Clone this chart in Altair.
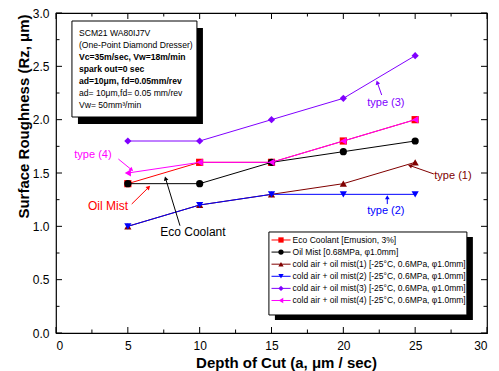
import math
import altair as alt
import pandas as pd

# ---------------- data ----------------
depth = [5, 10, 15, 20, 25]
eco_coolant = [1.4, 1.6, 1.6, 1.8, 2.0]
oil_mist = [1.4, 1.4, 1.6, 1.7, 1.8]
cold_1 = [1.0, 1.2, 1.3, 1.4, 1.6]
cold_2 = [1.0, 1.2, 1.3, 1.3, 1.3]
cold_3 = [1.8, 1.8, 2.0, 2.2, 2.6]
cold_4 = [1.5, 1.6, 1.6, 1.8, 2.0]

series_names = [
    "Eco Coolant [Emusion, 3%]",
    "Oil Mist [0.68MPa, \u03c61.0mm]",
    "cold air + oil mist(1) [-25\u00b0C, 0.6MPa, \u03c61.0mm]",
    "cold air + oil mist(2) [-25\u00b0C, 0.6MPa, \u03c61.0mm]",
    "cold air + oil mist(3) [-25\u00b0C, 0.6MPa, \u03c61.0mm]",
    "cold air + oil mist(4) [-25\u00b0C, 0.6MPa, \u03c61.0mm]",
]
series_values = [eco_coolant, oil_mist, cold_1, cold_2, cold_3, cold_4]
series_colors = ["#ff0000", "#000000", "#800000", "#0000ff", "#8000ff", "#ff00ff"]
series_shapes = ["square", "circle", "triangle-up", "triangle-down", "diamond", "triangle-left"]

info_lines = [
    "SCM21 WA80IJ7V",
    "(One-Point Diamond Dresser)",
    "Vc=35m/sec, Vw=18m/min",
    "spark out=0 sec",
    "ad=10\u03bcm, fd=0.05mm/rev",
    "ad= 10\u03bcm,fd= 0.05 mm/rev",
    "Vw= 50mm\u00b3/min",
]
info_bold = [False, False, True, True, True, False, False]

annot_text = ["type (3)", "type (1)", "type (2)", "type (4)", "Oil Mist", "Eco Coolant"]
annot_color = ["#8000ff", "#800000", "#0000ff", "#ff00ff", "#ff0000", "#000000"]
annot_size = [11, 11, 11, 11, 12, 12]
annot_pos = [(22.96, 2.156), (27.63, 1.472), (22.96, 1.144), (2.57, 1.669), (3.62, 1.191), (9.53, 0.947)]
arrow_tail = [(22.67, 2.231), (26.30, 1.491), (23.06, 1.209), (4.34, 1.631), (5.27, 1.209), (8.63, 1.006)]
arrow_tip = [(22.32, 2.365), (24.52, 1.575), (23.06, 1.290), (5.36, 1.519), (6.54, 1.378), (7.59, 1.465)]

x_major = [0, 5, 10, 15, 20, 25, 30]
y_major = [0.0, 0.5, 1.0, 1.5, 2.0, 2.5, 3.0]

# ---------------- layout ----------------
FONT = "Liberation Sans"
W, H = 431, 320
PX_X = W / 30.0
PX_Y = H / 3.0

xs = alt.Scale(domain=[0, 30], nice=False, zero=False)
ys = alt.Scale(domain=[0, 3], nice=False, zero=False)

x_axis = alt.Axis(
    title="Depth of Cut (a, \u03bcm / sec)", values=x_major, ticks=False, tickSize=0, domain=False,
    grid=False, labelFont=FONT, labelFontSize=12, labelColor="#000000", labelPadding=7,
    titleFont=FONT, titleFontSize=15, titleFontWeight="bold", titleColor="#000000",
    titleX=230, titleY=34, titleAlign="center", titleBaseline="alphabetic",
)
y_axis = alt.Axis(
    title="Surface Roughness (Rz, \u03bcm)", values=y_major, format=".1f", ticks=False, tickSize=0,
    domain=False, grid=False, labelFont=FONT, labelFontSize=12, labelColor="#000000", labelPadding=7,
    titleFont=FONT, titleFontSize=15, titleFontWeight="bold", titleColor="#000000",
    titleX=-28, titleY=103, titleAngle=270, titleAlign="center", titleBaseline="alphabetic",
)


def X(f):
    return alt.X(f, type="quantitative", scale=xs, axis=x_axis)


def Y(f):
    return alt.Y(f, type="quantitative", scale=ys, axis=y_axis)


layers = []

# ---- inward ticks on all four sides ----
tick_rows = []
maj_x, min_x = 6 / PX_X, 3.5 / PX_X
maj_y, min_y = 6 / PX_Y, 3.5 / PX_Y
for v in x_major:
    tick_rows.append(dict(x=v, x2=v, y=0, y2=maj_y))
    tick_rows.append(dict(x=v, x2=v, y=3, y2=3 - maj_y))
for a, b in zip(x_major[:-1], x_major[1:]):
    m = (a + b) / 2
    tick_rows.append(dict(x=m, x2=m, y=0, y2=min_y))
    tick_rows.append(dict(x=m, x2=m, y=3, y2=3 - min_y))
for v in y_major:
    tick_rows.append(dict(x=0, x2=maj_x, y=v, y2=v))
    tick_rows.append(dict(x=30, x2=30 - maj_x, y=v, y2=v))
for a, b in zip(y_major[:-1], y_major[1:]):
    m = (a + b) / 2
    tick_rows.append(dict(x=0, x2=min_x, y=m, y2=m))
    tick_rows.append(dict(x=30, x2=30 - min_x, y=m, y2=m))
layers.append(
    alt.Chart(pd.DataFrame(tick_rows)).mark_rule(color="#000000", strokeWidth=1).encode(
        x=X("x"), x2="x2", y=Y("y"), y2="y2"
    )
)

# ---- series ----
for name, vals, col, shp in zip(series_names, series_values, series_colors, series_shapes):
    df = pd.DataFrame({"depth": depth, "rz": vals})
    layers.append(alt.Chart(df).mark_line(color=col, strokeWidth=1).encode(x=X("depth"), y=Y("rz")))
    layers.append(
        alt.Chart(df).mark_point(shape=shp, filled=True, color=col, size=52, opacity=1).encode(
            x=X("depth"), y=Y("rz")
        )
    )

# ---- annotations with arrows ----
for txt, col, fs, pos, tail, tip in zip(annot_text, annot_color, annot_size, annot_pos, arrow_tail, arrow_tip):
    dxp = (tip[0] - tail[0]) * PX_X
    dyp = -(tip[1] - tail[1]) * PX_Y
    L = math.hypot(dxp, dyp)
    ux, uy = dxp / L, dyp / L
    ang = math.degrees(math.atan2(ux, -uy)) % 360
    back = 2.5
    cx = tip[0] - ux * back / PX_X
    cy = tip[1] + uy * back / PX_Y
    seg = pd.DataFrame([dict(x=tail[0], y=tail[1], x2=cx, y2=cy)])
    layers.append(alt.Chart(seg).mark_rule(color=col, strokeWidth=1).encode(x=X("x"), y=Y("y"), x2="x2", y2="y2"))
    head = pd.DataFrame([dict(x=cx, y=cy)])
    layers.append(
        alt.Chart(head).mark_point(shape="triangle", filled=True, color=col, size=22, angle=ang, opacity=1).encode(
            x=X("x"), y=Y("y")
        )
    )
    tdf = pd.DataFrame([dict(x=pos[0], y=pos[1], t=txt)])
    layers.append(
        alt.Chart(tdf).mark_text(font=FONT, fontSize=fs, color=col, align="center", baseline="middle").encode(
            x=X("x"), y=Y("y"), text="t"
        )
    )

# ---- info box ----
bx0, bx1, by0, by1 = 1.11, 9.81, 2.025, 2.925
sh_dx, sh_dy = 6 / PX_X, 7 / PX_Y
layers.append(
    alt.Chart(pd.DataFrame([dict(x=bx0 + sh_dx, x2=bx1 + sh_dx, y=by0 - sh_dy, y2=by1 - sh_dy)]))
    .mark_rect(color="#000000")
    .encode(x=X("x"), x2="x2", y=Y("y"), y2="y2")
)
layers.append(
    alt.Chart(pd.DataFrame([dict(x=bx0, x2=bx1, y=by0, y2=by1)]))
    .mark_rect(fill="#ffffff", stroke="#000000", strokeWidth=1)
    .encode(x=X("x"), x2="x2", y=Y("y"), y2="y2")
)
line_top = 2.81
line_step = 12 / PX_Y
info_df = pd.DataFrame(
    {
        "x": [1.60] * len(info_lines),
        "y": [line_top - i * line_step for i in range(len(info_lines))],
        "t": info_lines,
        "b": info_bold,
    }
)
for bold in (False, True):
    layers.append(
        alt.Chart(info_df[info_df["b"] == bold])
        .mark_text(font=FONT, fontSize=8.6, color="#000000", align="left", baseline="middle",
                   fontWeight="bold" if bold else "normal")
        .encode(x=X("x"), y=Y("y"), text="t")
    )

# ---- legend ----
lx0, lx1, ly0, ly1 = 14.82, 28.60, 0.169, 0.947
ls_dx, ls_dy = 6 / PX_X, 5 / PX_Y
layers.append(
    alt.Chart(pd.DataFrame([dict(x=lx0 + ls_dx, x2=lx1 + ls_dx, y=ly0 - ls_dy, y2=ly1 - ls_dy)]))
    .mark_rect(color="#000000")
    .encode(x=X("x"), x2="x2", y=Y("y"), y2="y2")
)
layers.append(
    alt.Chart(pd.DataFrame([dict(x=lx0, x2=lx1, y=ly0, y2=ly1)]))
    .mark_rect(fill="#ffffff", stroke="#000000", strokeWidth=1)
    .encode(x=X("x"), x2="x2", y=Y("y"), y2="y2")
)
row0 = 0.872
row_step = 12.1 / PX_Y
for i, (name, col, shp) in enumerate(zip(series_names, series_colors, series_shapes)):
    ry = row0 - i * row_step
    layers.append(
        alt.Chart(pd.DataFrame([dict(x=15.0, x2=16.33, y=ry, y2=ry)]))
        .mark_rule(color=col, strokeWidth=1)
        .encode(x=X("x"), x2="x2", y=Y("y"), y2="y2")
    )
    layers.append(
        alt.Chart(pd.DataFrame([dict(x=15.66, y=ry)]))
        .mark_point(shape=shp, filled=True, color=col, size=28, opacity=1)
        .encode(x=X("x"), y=Y("y"))
    )
    layers.append(
        alt.Chart(pd.DataFrame([dict(x=16.47, y=ry, t=name)]))
        .mark_text(font=FONT, fontSize=8.5, color="#000000", align="left", baseline="middle")
        .encode(x=X("x"), y=Y("y"), text="t")
    )

chart = (
    alt.layer(*layers)
    .properties(
        width=W,
        height=H,
        autosize=alt.AutoSizeParams(type="none"),
        padding={"left": 56, "top": 13, "right": 12, "bottom": 38},
        background="#ffffff",
    )
    .configure_view(stroke="#000000", strokeWidth=1.2)
)

chart.save("out.html", embed_options={"renderer": "svg", "actions": False})
